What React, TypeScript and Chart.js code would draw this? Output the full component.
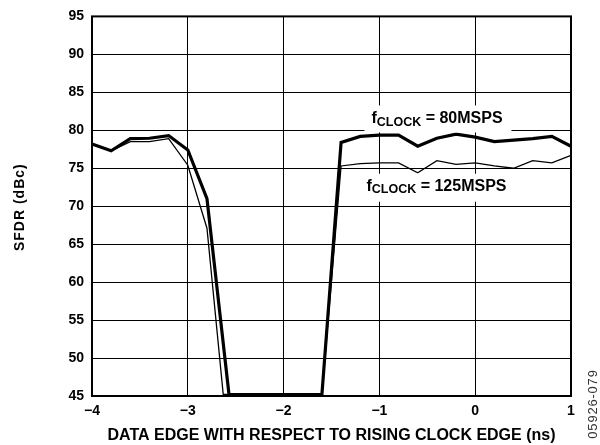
import React, { useEffect, useRef } from "react";
import { Chart, registerables } from "chart.js";

Chart.register(...registerables);

// x positions (ns) and SFDR values (dBc)
const X_80 = [-4, -3.8, -3.6, -3.4, -3.2, -3.0, -2.8, -2.57, -2.4, -2.2, -2.0, -1.8, -1.6, -1.4, -1.2, -1.0, -0.8, -0.6, -0.4, -0.2, 0, 0.2, 0.4, 0.6, 0.8, 1.0];
const SFDR_80 = [78.2, 77.3, 78.9, 78.95, 79.3, 77.4, 71.0, 45.2, 45.2, 45.2, 45.2, 45.2, 45.2, 78.4, 79.2, 79.35, 79.35, 77.9, 78.95, 79.5, 79.1, 78.5, 78.7, 78.9, 79.2, 77.9];
const X_125 = [-4, -3.8, -3.6, -3.4, -3.2, -3.0, -2.8, -2.63, -2.4, -2.2, -2.0, -1.8, -1.6, -1.4, -1.2, -1.0, -0.8, -0.6, -0.4, -0.2, 0, 0.2, 0.4, 0.6, 0.8, 1.0];
const SFDR_125 = [78.2, 77.3, 78.5, 78.5, 78.9, 75.4, 67.1, 45.2, 45.2, 45.2, 45.2, 45.2, 45.2, 75.3, 75.6, 75.7, 75.7, 74.4, 76.0, 75.5, 75.7, 75.3, 75.0, 76.0, 75.7, 76.7];

const X_TICKS = [-4, -3, -2, -1, 0, 1];
const Y_TICKS = [45, 50, 55, 60, 65, 70, 75, 80, 85, 90, 95];

const LABEL_80 = { main: "f", sub: "CLOCK", rest: " = 80MSPS", x: -1.083, y: 80.9 };
const LABEL_125 = { main: "f", sub: "CLOCK", rest: " = 125MSPS", x: -1.135, y: 72.04 };

const X_TITLE = "DATA EDGE WITH RESPECT TO RISING CLOCK EDGE (ns)";
const Y_TITLE = "SFDR (dBc)";
const SIDE_CODE = "05926-079";

const FAMILY = '"Liberation Sans", Arial, Helvetica, sans-serif';

const fmtX = (v: number) => (v < 0 ? "\u2212" + Math.abs(v) : String(v));

const decorPlugin = {
  id: "decor",
  beforeDatasetsDraw(chart: any) {
    const { ctx, chartArea: a } = chart;
    ctx.save();
    ctx.strokeStyle = "#000";
    ctx.lineWidth = 2;
    ctx.strokeRect(a.left, a.top, a.right - a.left, a.bottom - a.top);
    ctx.restore();
  },
  afterDatasetsDraw(chart: any) {
    const { ctx } = chart;
    const xs = chart.scales.x;
    const ys = chart.scales.y;
    const drawLabel = (lab: any, bgL: number, bgR: number, bgT: number, bgB: number) => {
      const px = xs.getPixelForValue(lab.x);
      const py = ys.getPixelForValue(lab.y);
      ctx.save();
      ctx.fillStyle = "#fff";
      ctx.fillRect(px - bgL, py - bgT, bgL + bgR, bgT + bgB);
      ctx.fillStyle = "#000";
      ctx.textBaseline = "alphabetic";
      ctx.textAlign = "left";
      ctx.font = "bold 16px " + FAMILY;
      ctx.fillText(lab.main, px, py);
      let cx = px + ctx.measureText(lab.main).width;
      ctx.font = "bold 12.5px " + FAMILY;
      ctx.fillText(lab.sub, cx, py + 2.5);
      cx += ctx.measureText(lab.sub).width;
      ctx.font = "bold 16px " + FAMILY;
      ctx.fillText(lab.rest, cx, py);
      ctx.restore();
    };
    drawLabel(LABEL_80, 7, 140, 18, 9);
    drawLabel(LABEL_125, 5, 145, 17, 11);
  },
  afterDraw(chart: any) {
    const { ctx, chartArea: a } = chart;
    ctx.save();
    // y-axis title
    ctx.translate(20, (a.top + a.bottom) / 2 + 1);
    ctx.rotate(-Math.PI / 2);
    ctx.font = "bold 14px " + FAMILY;
    (ctx as any).letterSpacing = "1px";
    ctx.fillStyle = "#000";
    ctx.textAlign = "center";
    ctx.textBaseline = "middle";
    ctx.fillText(Y_TITLE, 0, 0);
    ctx.restore();
    // side code
    ctx.save();
    ctx.translate(593, 404);
    ctx.rotate(-Math.PI / 2);
    ctx.font = "13px " + FAMILY;
    (ctx as any).letterSpacing = "0.8px";
    ctx.fillStyle = "#333";
    ctx.textAlign = "center";
    ctx.textBaseline = "middle";
    ctx.fillText(SIDE_CODE, 0, 0);
    ctx.restore();
  },
};

export default function App() {
  const ref = useRef<HTMLCanvasElement | null>(null);
  useEffect(() => {
    if (!ref.current) return;
    const chart = new Chart(ref.current, {
      type: "line",
      data: {
        datasets: [
          {
            label: "fCLOCK = 80MSPS",
            data: X_80.map((x, i) => ({ x, y: SFDR_80[i] })),
            borderColor: "#000",
            borderWidth: 3.2,
            pointRadius: 0,
            tension: 0,
            clip: 8,
          },
          {
            label: "fCLOCK = 125MSPS",
            data: X_125.map((x, i) => ({ x, y: SFDR_125[i] })),
            borderColor: "#000",
            borderWidth: 1.3,
            pointRadius: 0,
            tension: 0,
            clip: 8,
          },
        ],
      },
      options: {
        animation: false,
        responsive: false,
        devicePixelRatio: 1,
        layout: { padding: { top: 14, right: 29, left: 0, bottom: 0 } },
        plugins: { legend: { display: false }, tooltip: { enabled: false } },
        scales: {
          x: {
            type: "linear",
            min: -4,
            max: 1,
            afterFit: (s: any) => {
              s.height = 49;
            },
            afterBuildTicks: (s: any) => {
              s.ticks = X_TICKS.map((v) => ({ value: v }));
            },
            ticks: {
              callback: (v: any) => fmtX(Number(v)),
              font: { family: FAMILY, size: 14, weight: "bold" },
              color: "#000",
              padding: 7,
              maxRotation: 0,
              autoSkip: false,
            },
            grid: { color: "#000", lineWidth: 1, drawTicks: false },
            border: { display: false },
            title: {
              display: true,
              text: X_TITLE,
              font: { family: FAMILY, size: 16, weight: "bold" },
              color: "#000",
              padding: { top: 0, bottom: 0 },
            },
          },
          y: {
            type: "linear",
            min: 45,
            max: 95,
            afterFit: (s: any) => {
              s.width = 92;
            },
            afterBuildTicks: (s: any) => {
              s.ticks = Y_TICKS.map((v) => ({ value: v }));
            },
            ticks: {
              font: { family: FAMILY, size: 14, weight: "bold" },
              color: "#000",
              padding: 8,
              autoSkip: false,
            },
            grid: { color: "#000", lineWidth: 1, drawTicks: false },
            border: { display: false },
          },
        },
      },
      plugins: [decorPlugin],
    } as any);
    return () => chart.destroy();
  }, []);
  return (
    <div style={{ position: "fixed", left: 0, top: 0, width: 600, height: 445, background: "#fff" }}>
      <canvas ref={ref} width={600} height={445} style={{ display: "block" }} />
    </div>
  );
}
